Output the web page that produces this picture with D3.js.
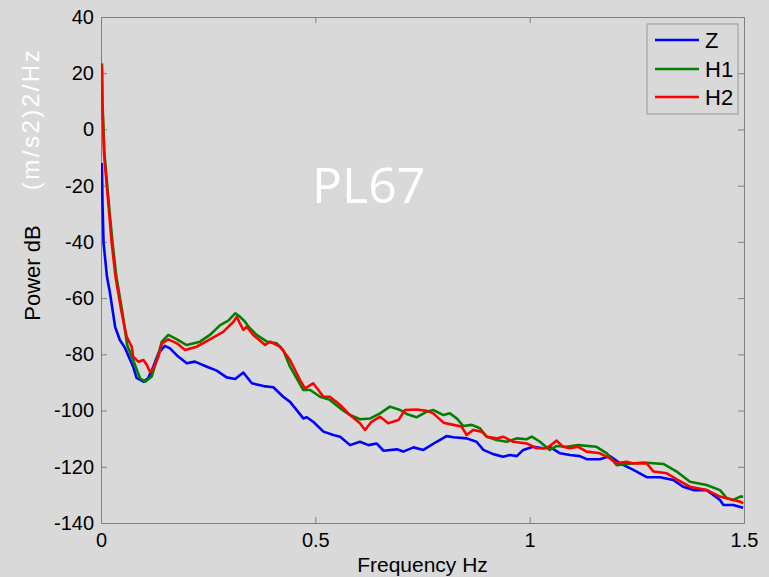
<!DOCTYPE html>
<html>
<head>
<meta charset="utf-8">
<script src="https://cdn.jsdelivr.net/npm/d3@7/dist/d3.min.js"></script>
<style>
  html, body { margin: 0; padding: 0; background: #d9d9d9; }
  svg { display: block; }
</style>
</head>
<body>
<script>
// ---- data ----
const xTicks = [0, 0.5, 1, 1.5];
const yTicks = [40, 20, 0, -20, -40, -60, -80, -100, -120, -140];
const seriesNames = ["Z", "H1", "H2"];
const seriesColors = ["#0000ff", "#008000", "#ff0000"];

const freqZ = [0.002,0.0035,0.006,0.014,0.021,0.033,0.044,0.056,0.075,0.083,0.099,0.110,0.122,0.134,0.149,0.161,0.180,0.200,0.219,0.247,0.270,0.293,0.313,0.332,0.352,0.379,0.402,0.425,0.441,0.472,0.480,0.495,0.519,0.542,0.558,0.581,0.604,0.624,0.643,0.659,0.690,0.705,0.729,0.752,0.783,0.806,0.822,0.853,0.876,0.892,0.915,0.938,0.954,0.970,0.985,1.008,1.032,1.047,1.071,1.094,1.117,1.133,1.164,1.187,1.211,1.242,1.273,1.304,1.335,1.358,1.382,1.413,1.444,1.452,1.475,1.498];
const dbZ = [-11.9,-26.2,-40.4,-52.5,-58.2,-70.3,-74.9,-77.7,-84.4,-88.4,-89.7,-88.5,-84.4,-79.6,-77.0,-77.9,-80.8,-83.2,-82.6,-84.4,-85.8,-88.2,-88.8,-86.5,-90.3,-91.3,-91.7,-95.1,-96.9,-102.8,-102.4,-104.0,-107.5,-108.7,-109.3,-112.3,-111.1,-112.3,-111.7,-114.3,-113.8,-114.6,-113.1,-114.0,-111.1,-109.1,-109.5,-109.9,-111.1,-114.0,-115.5,-116.4,-115.8,-116.2,-114.0,-112.9,-113.4,-112.9,-115.2,-115.8,-116.2,-117.3,-117.3,-116.2,-118.8,-121.1,-123.7,-123.7,-124.7,-127.1,-128.3,-128.3,-131.8,-133.6,-133.6,-134.6];

const freqH1 = [0.002,0.0035,0.008,0.016,0.027,0.036,0.049,0.061,0.075,0.091,0.103,0.118,0.130,0.142,0.157,0.173,0.200,0.231,0.254,0.278,0.297,0.313,0.324,0.336,0.344,0.363,0.387,0.410,0.425,0.441,0.472,0.488,0.511,0.534,0.558,0.581,0.604,0.628,0.651,0.674,0.698,0.713,0.736,0.760,0.775,0.799,0.814,0.830,0.845,0.865,0.884,0.900,0.923,0.946,0.970,0.993,1.005,1.024,1.047,1.063,1.086,1.113,1.156,1.180,1.203,1.226,1.265,1.312,1.343,1.374,1.413,1.444,1.460,1.475,1.491,1.498];
const dbH1 = [23.5,9.4,-8.4,-22.6,-40.4,-52.5,-64.2,-76.7,-82.0,-88.5,-89.7,-88.0,-82.0,-75.5,-73.1,-74.3,-76.7,-75.5,-73.1,-69.6,-68.0,-65.4,-66.6,-68.4,-70.2,-73.1,-75.5,-76.1,-78.5,-84.4,-92.7,-92.7,-95.1,-96.2,-99.2,-101.6,-103.1,-102.8,-101.0,-98.6,-99.8,-101.2,-102.4,-100.4,-99.8,-101.6,-101.0,-102.8,-105.5,-105.1,-106.3,-109.3,-110.5,-111.1,-109.9,-110.2,-109.3,-111.1,-114.0,-112.6,-112.9,-112.3,-112.9,-115.2,-119.4,-119.0,-118.5,-119.0,-121.7,-125.3,-126.5,-128.3,-131.2,-131.8,-130.6,-130.6];

const freqH2 = [0.002,0.003,0.007,0.015,0.025,0.034,0.047,0.060,0.072,0.075,0.087,0.099,0.107,0.114,0.122,0.134,0.142,0.157,0.177,0.196,0.223,0.254,0.285,0.309,0.317,0.324,0.332,0.340,0.355,0.383,0.394,0.418,0.441,0.464,0.476,0.495,0.507,0.519,0.534,0.558,0.581,0.604,0.616,0.631,0.651,0.670,0.694,0.709,0.736,0.760,0.775,0.799,0.822,0.841,0.853,0.868,0.888,0.900,0.923,0.938,0.962,0.993,1.016,1.040,1.063,1.078,1.094,1.113,1.133,1.164,1.187,1.203,1.226,1.242,1.273,1.289,1.320,1.343,1.374,1.413,1.444,1.475,1.491,1.498];
const dbH2 = [23.0,9.4,-8.4,-22.6,-40.4,-52.5,-64.2,-73.8,-77.4,-80.8,-82.6,-82.0,-83.8,-86.2,-85.0,-80.8,-76.1,-74.7,-76.1,-78.5,-77.3,-74.7,-72.0,-68.4,-66.6,-69.0,-71.3,-70.2,-73.1,-76.7,-75.5,-77.3,-82.0,-89.1,-92.1,-90.3,-92.7,-95.1,-95.1,-98.0,-101.6,-104.5,-106.9,-104.0,-102.2,-104.5,-103.4,-99.8,-99.6,-100.1,-101.0,-104.3,-105.1,-105.7,-108.7,-106.9,-107.5,-109.3,-109.9,-109.3,-111.1,-111.7,-113.4,-113.4,-110.7,-112.9,-113.4,-112.9,-114.6,-115.2,-117.0,-118.8,-118.2,-118.8,-118.8,-121.7,-122.3,-124.5,-127.1,-128.3,-130.6,-131.8,-132.4,-133.0];

const series = [
  { name: "Z",  f: freqZ,  v: dbZ },
  { name: "H1", f: freqH1, v: dbH1 },
  { name: "H2", f: freqH2, v: dbH2 }
];

// ---- layout ----
const W = 769, H = 577;
const L = 101, R = 744, T = 17, B = 523;
const bg = "#d9d9d9";
const axisColor = "#808080";
const font = "'Liberation Sans', Arial, Helvetica, sans-serif";

const svg = d3.select("body").append("svg").attr("width", W).attr("height", H);
svg.append("rect").attr("width", W).attr("height", H).attr("fill", bg);

const x = d3.scaleLinear().domain([0, 1.5]).range([L, R]);
const y = d3.scaleLinear().domain([-140, 40]).range([B, T]);

svg.append("defs").append("clipPath").attr("id", "clip")
  .append("rect").attr("x", L).attr("y", T).attr("width", R - L).attr("height", B - T);

// axes
const fmt = d => String(d);
const tickLen = 6;

const gL = svg.append("g").attr("transform", `translate(${L},0)`)
  .call(d3.axisLeft(y).tickValues(yTicks).tickFormat(fmt).tickSizeInner(-tickLen).tickSizeOuter(0).tickPadding(tickLen + 1));
const gB = svg.append("g").attr("transform", `translate(0,${B})`)
  .call(d3.axisBottom(x).tickValues(xTicks).tickFormat(fmt).tickSizeInner(-tickLen).tickSizeOuter(0).tickPadding(tickLen + 4));
const gR = svg.append("g").attr("transform", `translate(${R},0)`)
  .call(d3.axisRight(y).tickValues(yTicks).tickFormat("").tickSizeInner(-tickLen).tickSizeOuter(0));
const gT = svg.append("g").attr("transform", `translate(0,${T})`)
  .call(d3.axisTop(x).tickValues(xTicks).tickFormat("").tickSizeInner(-tickLen).tickSizeOuter(0));

[gL, gB, gR, gT].forEach(g => {
  g.selectAll(".domain").attr("stroke", axisColor).attr("stroke-width", 1);
  g.selectAll(".tick line").attr("stroke", axisColor);
  g.selectAll(".tick text").attr("fill", "#000").attr("font-family", font).attr("font-size", 20);
});

// lines
const line = d3.line().x(d => x(d[0])).y(d => y(d[1]));
const gLines = svg.append("g").attr("clip-path", "url(#clip)");
series.forEach((s, i) => {
  const pts = s.f.map((f, k) => [f, s.v[k]]);
  gLines.append("path").datum(pts)
    .attr("d", line)
    .attr("fill", "none")
    .attr("stroke", seriesColors[i])
    .attr("stroke-width", 2.6)
    .attr("stroke-linejoin", "round");
});

// labels
svg.append("text").attr("x", (L + R) / 2).attr("y", 572).attr("text-anchor", "middle")
  .attr("font-family", font).attr("font-size", 21).attr("fill", "#000").text("Frequency Hz");

svg.append("text").attr("transform", "translate(32,273) rotate(-90)")
  .attr("text-anchor", "middle").attr("dominant-baseline", "central")
  .attr("font-family", font).attr("font-size", 22).attr("fill", "#000").text("Power dB");

svg.append("text").attr("transform", "translate(30,119) rotate(-90)")
  .attr("text-anchor", "middle").attr("dominant-baseline", "central")
  .attr("font-family", font).attr("font-size", 24).attr("letter-spacing", 2.5)
  .attr("fill", "#ffffff").text("(m/s2)2/Hz");

svg.append("text").attr("x", 312).attr("y", 203)
  .attr("font-family", "'Open Sans', sans-serif").attr("font-size", 50)
  .attr("fill", "#ffffff").text("PL67");

// legend
const lg = svg.append("g");
lg.append("rect").attr("x", 647).attr("y", 24).attr("width", 91).attr("height", 90)
  .attr("fill", bg).attr("stroke", "#999").attr("stroke-width", 1);
const legY = [40, 69, 97];
seriesNames.forEach((n, i) => {
  lg.append("line").attr("x1", 655).attr("x2", 699).attr("y1", legY[i]).attr("y2", legY[i])
    .attr("stroke", seriesColors[i]).attr("stroke-width", 2.6);
  lg.append("text").attr("x", 705).attr("y", legY[i] + 8)
    .attr("font-family", font).attr("font-size", 22).attr("fill", "#000").text(n);
});
</script>
</body>
</html>
